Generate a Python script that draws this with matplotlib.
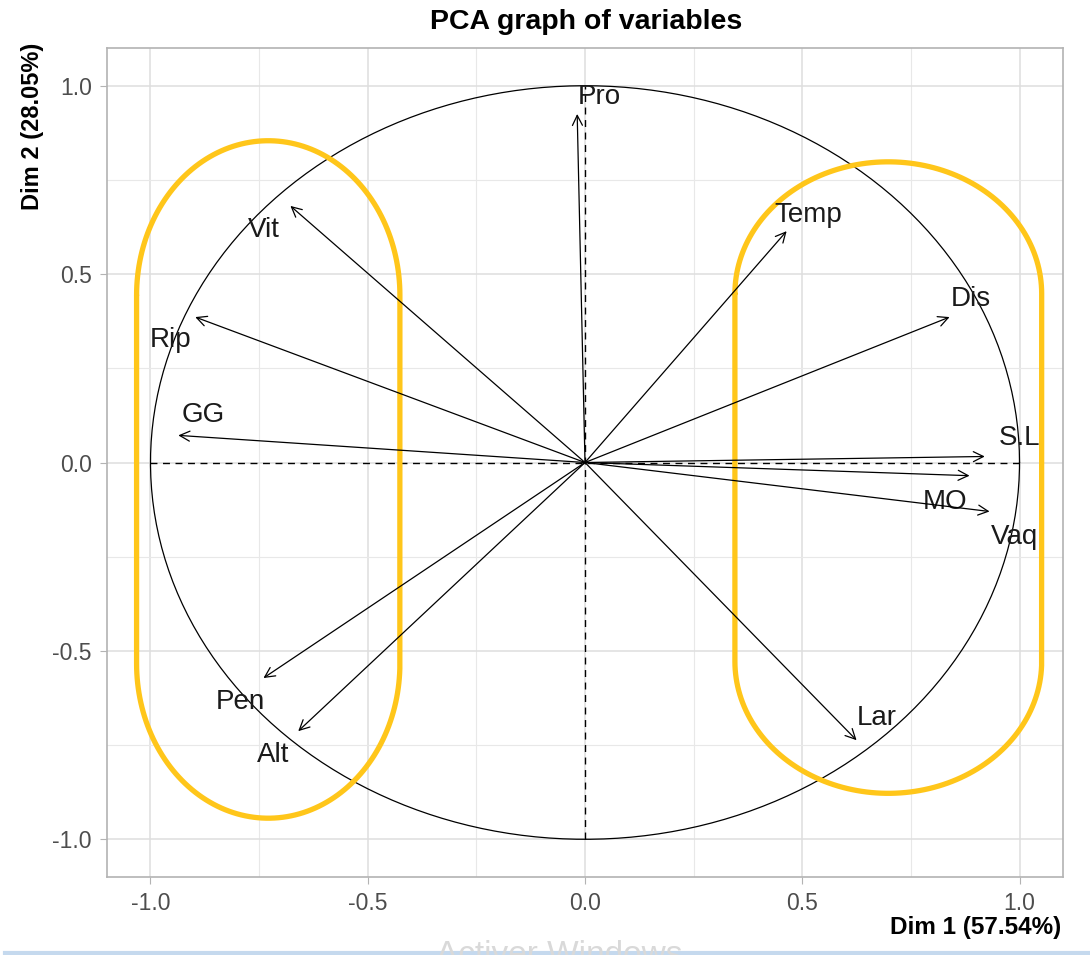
import numpy as np
import matplotlib
matplotlib.use("Agg")
from matplotlib import pyplot as plt

plt.rcParams['font.family'] = ['Liberation Sans', 'DejaVu Sans']

# variable coordinates (arrow tips)
variables = ["Pro", "Temp", "Dis", "S.L", "MO", "Vaq", "Lar", "Alt", "Pen", "GG", "Rip", "Vit"]
dim1 = [-0.018, 0.464, 0.839, 0.920, 0.885, 0.931, 0.625, -0.660, -0.740, -0.936, -0.897, -0.678]
dim2 = [0.925, 0.614, 0.386, 0.016, -0.035, -0.130, -0.737, -0.713, -0.572, 0.072, 0.386, 0.681]

# where each label sits
label_x = [0.034, 0.513, 0.887, 1.000, 0.828, 0.989, 0.671, -0.717, -0.793, -0.878, -0.954, -0.740]
label_y = [0.971, 0.657, 0.434, 0.066, -0.104, -0.197, -0.678, -0.777, -0.636, 0.125, 0.324, 0.617]

# yellow groups drawn over the plot: centre x, half width, top, bottom, cap height
groups = [
    (-0.729, 0.303, 0.854, -0.944, 0.41),
    (0.698, 0.353, 0.798, -0.878, 0.35),
]

ticks = [-1.0, -0.5, 0.0, 0.5, 1.0]
minor_ticks = [-0.75, -0.25, 0.25, 0.75]


def stadium(cx, hw, top, bottom, cap, n=100):
    t = np.linspace(0, np.pi, n)
    # top cap (left -> right)
    xt = cx - hw * np.cos(t)
    yt = (top - cap) + cap * np.sin(t)
    # bottom cap (right -> left)
    xb = cx + hw * np.cos(t)
    yb = (bottom + cap) - cap * np.sin(t)
    xs = np.concatenate([xt, xb, xt[:1]])
    ys = np.concatenate([yt, yb, yt[:1]])
    return xs, ys


fig = plt.figure(figsize=(10.9, 9.55), dpi=100)
ax = fig.add_axes([0.0982, 0.0817, 0.877, 0.868])

ax.set_xlim(-1.1, 1.1)
ax.set_ylim(-1.1, 1.1)
ax.set_xticks(ticks)
ax.set_yticks(ticks)
ax.set_xticks(minor_ticks, minor=True)
ax.set_yticks(minor_ticks, minor=True)
ax.set_xticklabels([f"{v:.1f}" for v in ticks])
ax.set_yticklabels([f"{v:.1f}" for v in ticks])
ax.grid(True, which="major", color="#DEDEDE", lw=1.1)
ax.grid(True, which="minor", color="#E8E8E8", lw=0.8)
ax.set_axisbelow(True)
ax.tick_params(which="major", length=5, color="#B3B3B3", labelsize=16.5,
               labelcolor="#4D4D4D", pad=6)
ax.tick_params(which="minor", length=0)
for s in ax.spines.values():
    s.set_color("#B3B3B3")
    s.set_linewidth(1.2)

# unit circle and dashed axes
th = np.linspace(0, 2 * np.pi, 400)
ax.plot(np.cos(th), np.sin(th), color="black", lw=0.9)
ax.plot([-1, 1], [0, 0], color="black", lw=1.0, ls=(0, (5, 4)))
ax.plot([0, 0], [-1, 1], color="black", lw=1.0, ls=(0, (5, 4)))

# arrows and labels
for name, x, y, lx, ly in zip(variables, dim1, dim2, label_x, label_y):
    ax.annotate("", xy=(x, y), xytext=(0, 0),
                arrowprops=dict(arrowstyle="->", color="black", lw=0.9,
                                mutation_scale=18, shrinkA=0, shrinkB=0))
    ax.text(lx, ly, name, fontsize=20, color="#1A1A1A", ha="center", va="center")

# highlighted groups
for cx, hw, top, bottom, cap in groups:
    xs, ys = stadium(cx, hw, top, bottom, cap)
    ax.plot(xs, ys, color="#FFC61A", lw=3.8, solid_capstyle="round")

fig.text(0.538, 0.977, "PCA graph of variables", ha="center", va="center",
         fontsize=20.5, fontweight="bold")
fig.text(0.974, 0.029, "Dim 1 (57.54%)", ha="right", va="center",
         fontsize=17.5, fontweight="bold")
fig.text(0.030, 0.955, "Dim 2 (28.05%)", ha="center", va="top",
         fontsize=17, fontweight="bold", rotation=90)

# screen capture artefacts at the bottom edge
fig.text(0.513, 0.0, "Activer Windows", ha="center", va="center",
         fontsize=24, color="#D9D9D9")
fig.add_artist(plt.Line2D([0.005, 1], [0.002, 0.002], color="#C5D9EE", lw=3,
                          transform=fig.transFigure))

fig.savefig("out.png", dpi=100)
